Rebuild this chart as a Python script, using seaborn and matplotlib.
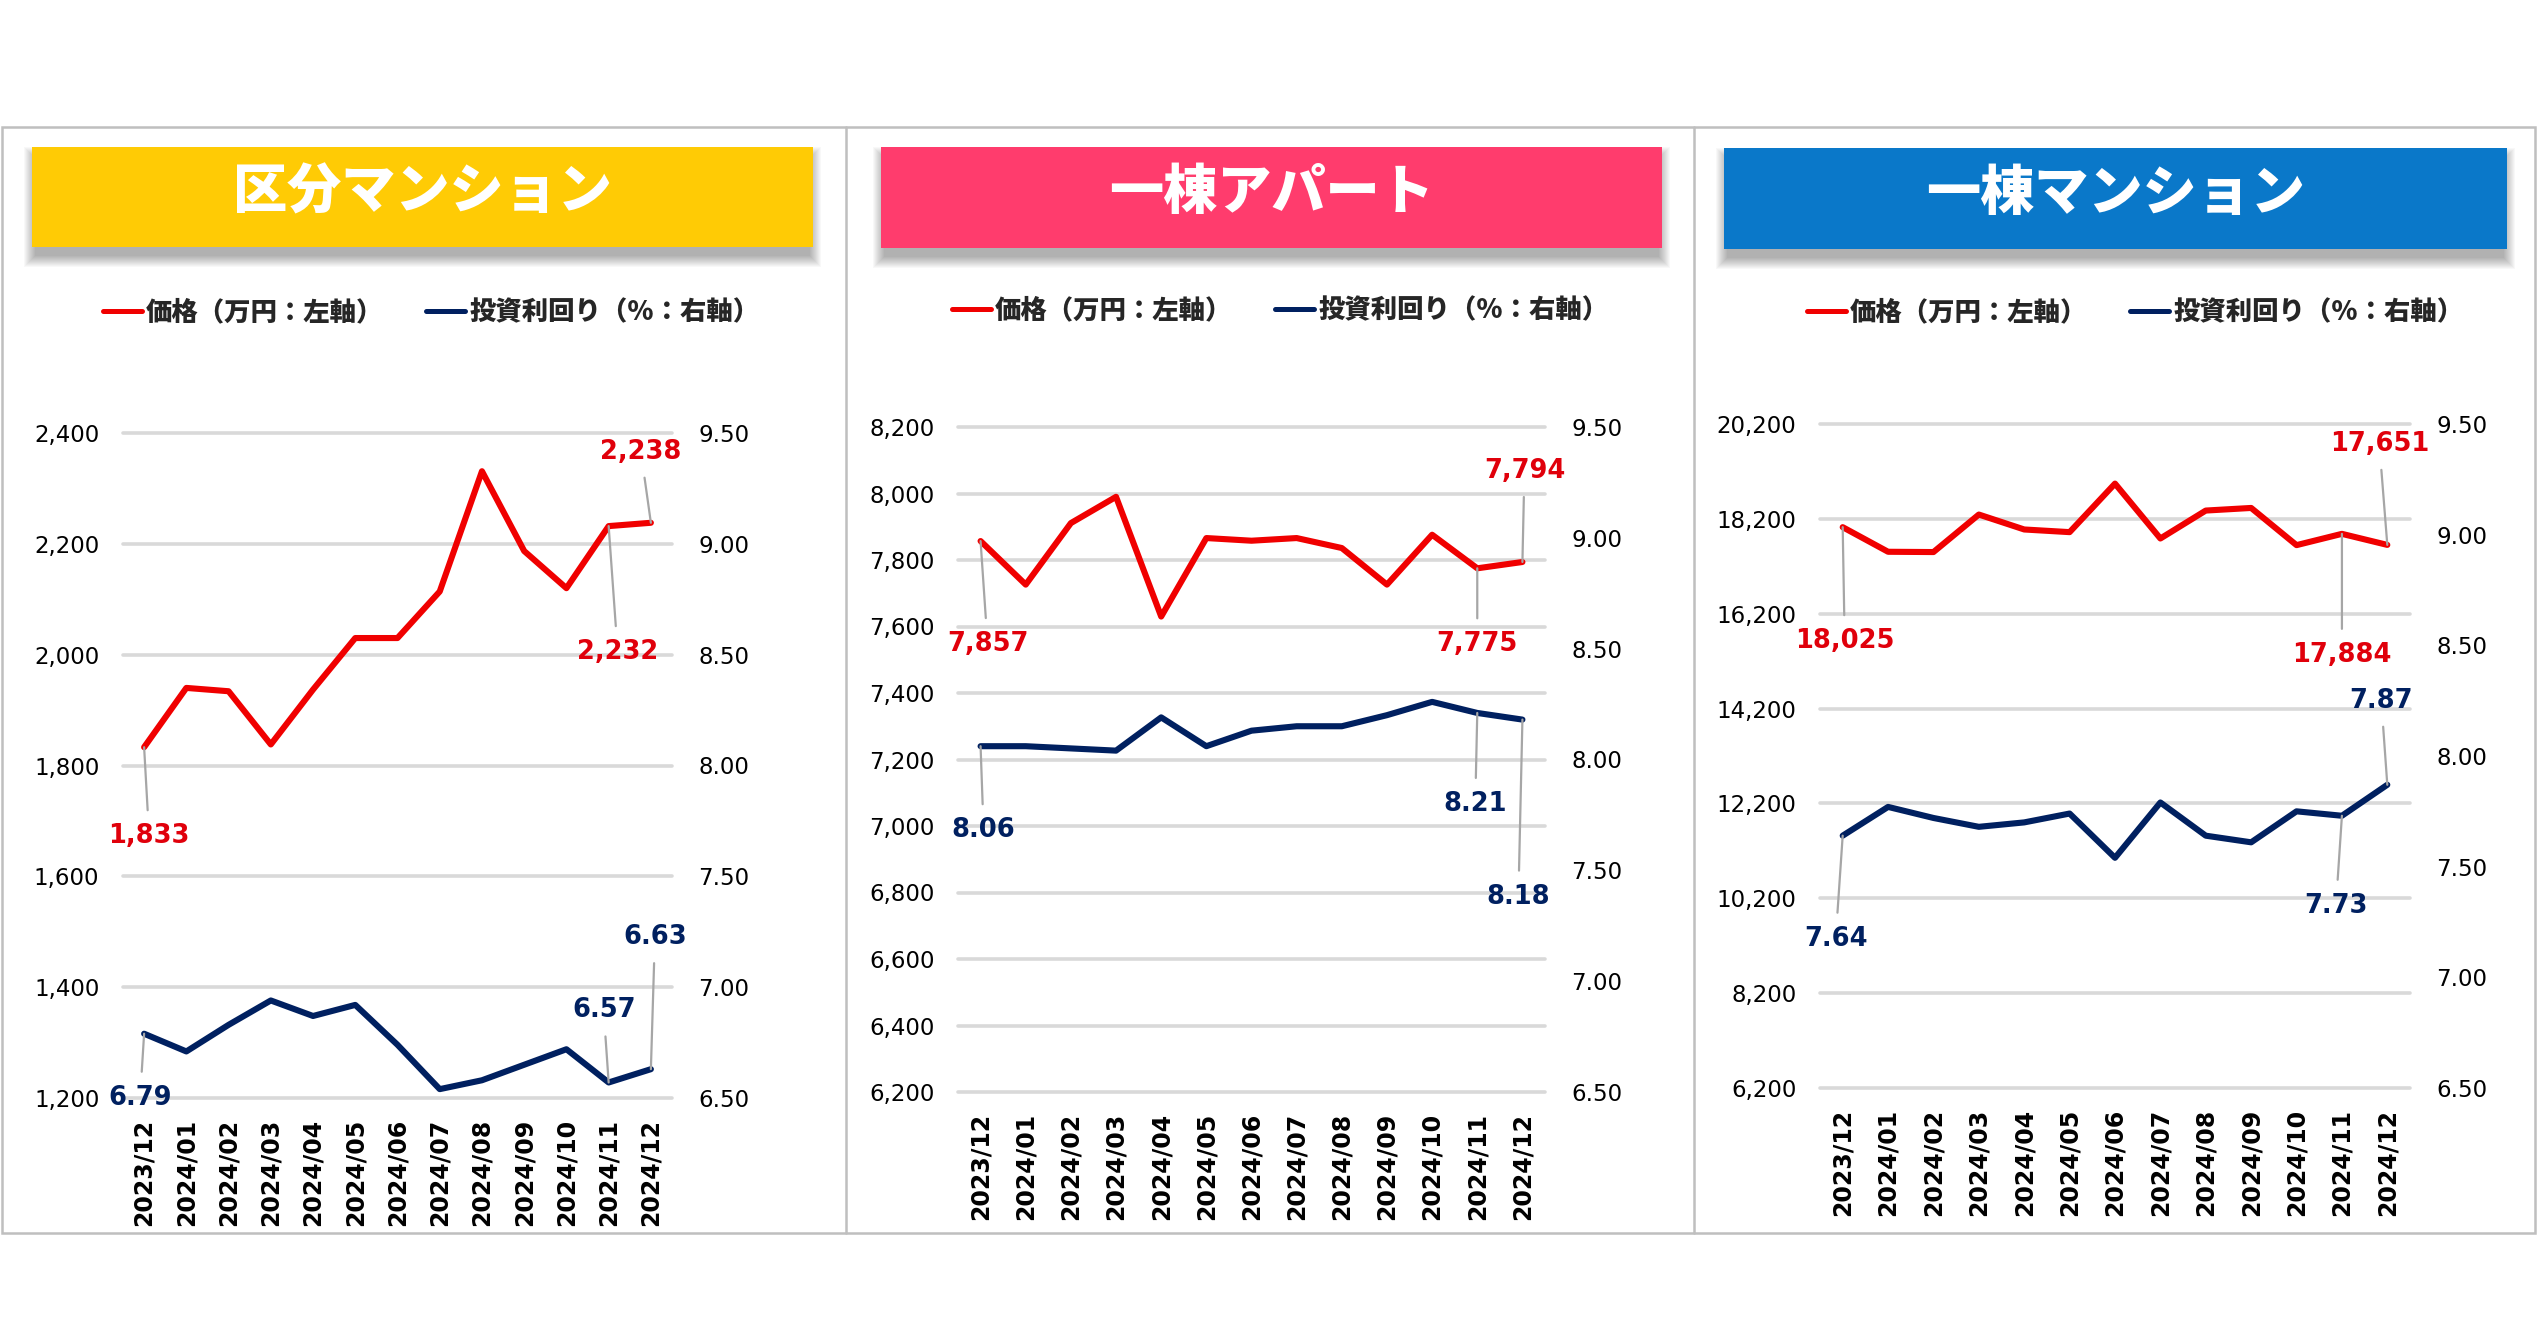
import numpy as np
import pandas as pd
import matplotlib
matplotlib.use("Agg")
import matplotlib.pyplot as plt
import seaborn as sns
from matplotlib.patches import Rectangle
from matplotlib.lines import Line2D
from matplotlib.font_manager import FontProperties

# ---------------- data ----------------
months = ["2023/12", "2024/01", "2024/02", "2024/03", "2024/04", "2024/05", "2024/06",
          "2024/07", "2024/08", "2024/09", "2024/10", "2024/11", "2024/12"]

kubun_price = [1833, 1940, 1934, 1838, 1937, 2030, 2030, 2114, 2331, 2187, 2120, 2232, 2238]
kubun_yield = [6.79, 6.71, 6.83, 6.94, 6.87, 6.92, 6.74, 6.54, 6.58, 6.65, 6.72, 6.57, 6.63]

apart_price = [7857, 7726, 7911, 7990, 7630, 7866, 7858, 7866, 7836, 7726, 7876, 7775, 7794]
apart_yield = [8.06, 8.06, 8.05, 8.04, 8.19, 8.06, 8.13, 8.15, 8.15, 8.20, 8.26, 8.21, 8.18]

mansion_price = [18025, 17506, 17500, 18291, 17976, 17920, 18943, 17786, 18375, 18430, 17646, 17884, 17651]
mansion_yield = [7.64, 7.77, 7.72, 7.68, 7.70, 7.74, 7.54, 7.79, 7.64, 7.61, 7.75, 7.73, 7.87]

titles = ["区分マンション", "一棟アパート", "一棟マンション"]
legend_labels = ["価格（万円：左軸）", "投資利回り（％：右軸）"]

kubun_price_ticks = [1200, 1400, 1600, 1800, 2000, 2200, 2400]
apart_price_ticks = [6200, 6400, 6600, 6800, 7000, 7200, 7400, 7600, 7800, 8000, 8200]
mansion_price_ticks = [6200, 8200, 10200, 12200, 14200, 16200, 18200, 20200]
yield_ticks = [6.5, 7.0, 7.5, 8.0, 8.5, 9.0, 9.5]

labelled_points = [0, 11, 12]

# ---------------- style / layout ----------------
W, H = 2538, 1328
RED = "#F00000"
RED_TXT = "#E0000B"
NAVY = "#002060"
GRID = "#D9D9D9"
LEADER = "#A6A6A6"
title_colors = ["#FFCB05", "#FF3C6D", "#0A78C9"]

sns.set_theme(style="white")
plt.rcParams["font.family"] = ["DejaVu Sans", "Noto Sans CJK JP"]
CJK = ["Noto Sans CJK JP", "DejaVu Sans"]

fig = plt.figure(figsize=(W / 100, H / 100), dpi=100)
fig.patch.set_facecolor("white")

bg = fig.add_axes([0, 0, 1, 1], zorder=0)
bg.set_xlim(0, W)
bg.set_ylim(H, 0)
bg.axis("off")

# panel frames
bg.add_patch(Rectangle((2, 127), 2533, 1106, fill=False, edgecolor="#BFBFBF", lw=1.8))
for xd in (846, 1694):
    bg.plot([xd, xd], [127, 1233], color="#BFBFBF", lw=1.8)

panels = [
    dict(price=kubun_price, yld=kubun_yield, pticks=kubun_price_ticks,
         box=(32, 147, 781, 100), ax=(123, 433, 672, 1098), legend_c=(431, 312),
         poff=[(5, 89), (9, 126), (-10, -71)], yoff=[(-4, 64), (-5, -72), (4, -132)]),
    dict(price=apart_price, yld=apart_yield, pticks=apart_price_ticks,
         box=(881, 147, 781, 101), ax=(958, 427, 1545, 1092), legend_c=(1280, 310),
         poff=[(7, 103), (0, 76), (2, -91)], yoff=[(3, 84), (-2, 91), (-4, 177)]),
    dict(price=mansion_price, yld=mansion_yield, pticks=mansion_price_ticks,
         box=(1724, 148, 783, 101), ax=(1820, 424, 2410, 1088), legend_c=(2135, 312),
         poff=[(2, 114), (0, 121), (-8, -101)], yoff=[(-7, 103), (-6, 90), (-6, -84)]),
]

legend_font = FontProperties(family=CJK, weight="heavy", size=19)

for p, title, tcol in zip(panels, titles, title_colors):
    # title box with soft drop shadow (mostly below)
    x0, y0, bw, bh = p["box"]
    for s in range(1, 13):
        bg.add_patch(Rectangle((x0 + 4 - s, y0 + 12 - s), bw - 8 + 2 * s, bh + 2 * s - 4,
                               facecolor="black", alpha=0.028, lw=0))
    bg.add_patch(Rectangle((x0, y0), bw, bh, facecolor=tcol, lw=0))
    bg.text(x0 + bw / 2, y0 + bh / 2 - 5, title, color="white", ha="center", va="center",
            fontsize=39, fontweight="heavy", family=CJK)

    # axes
    ax_l, ax_t, ax_r, ax_b = p["ax"]
    ax = fig.add_axes([ax_l / W, 1 - ax_b / H, (ax_r - ax_l) / W, (ax_b - ax_t) / H], zorder=2)
    ax.patch.set_alpha(0)
    ax2 = ax.twinx()
    ax2.patch.set_alpha(0)

    df = pd.DataFrame({"idx": np.arange(len(months)), "month": months,
                       "price": p["price"], "yield": p["yld"]})
    sns.lineplot(data=df, x="idx", y="price", ax=ax, color=RED, linewidth=4.4, legend=False)
    sns.lineplot(data=df, x="idx", y="yield", ax=ax2, color=NAVY, linewidth=4.4, legend=False)

    pt = p["pticks"]
    ax.set_ylim(pt[0], pt[-1])
    ax.set_yticks(pt)
    ax.set_yticklabels([f"{v:,}" for v in pt])
    ax2.set_ylim(yield_ticks[0], yield_ticks[-1])
    ax2.set_yticks(yield_ticks)
    ax2.set_yticklabels([f"{v:.2f}" for v in yield_ticks])
    ax.set_xlim(-0.5, len(months) - 0.5)
    ax.set_xticks(range(len(months)))
    ax.set_xticklabels(months, rotation=90, fontsize=17, fontweight="bold", color="black")

    ax.grid(axis="y", color=GRID, linewidth=2.6)
    ax.grid(axis="x", visible=False)
    ax2.grid(False)
    ax.set_axisbelow(True)
    for gl in ax.get_ygridlines():
        gl.set_clip_on(False)

    for a in (ax, ax2):
        for sp in a.spines.values():
            sp.set_visible(False)
        a.set_xlabel("")
        a.set_ylabel("")
    ax.tick_params(axis="y", length=0, pad=17, labelsize=16.5, labelcolor="black")
    ax.tick_params(axis="x", length=0, pad=15)
    ax2.tick_params(axis="y", length=0, pad=19, labelsize=16.5, labelcolor="black")

    # data labels with leader lines
    for i, (dx, dy) in zip(labelled_points, p["poff"]):
        v = p["price"][i]
        ax.annotate(f"{v:,}", xy=(i, v), xytext=(dx, -dy), textcoords="offset pixels",
                    ha="center", va="center", color=RED_TXT, fontsize=18.5, fontweight="bold",
                    arrowprops=dict(arrowstyle="-", color=LEADER, lw=1.6, shrinkA=7, shrinkB=0),
                    zorder=5, annotation_clip=False)
    for i, (dx, dy) in zip(labelled_points, p["yoff"]):
        v = p["yld"][i]
        ax2.annotate(f"{v:.2f}", xy=(i, v), xytext=(dx, -dy), textcoords="offset pixels",
                     ha="center", va="center", color=NAVY, fontsize=18.5, fontweight="bold",
                     arrowprops=dict(arrowstyle="-", color=LEADER, lw=1.6, shrinkA=7, shrinkB=0),
                     zorder=5, annotation_clip=False)

    # legend
    handles = [Line2D([], [], color=RED, lw=3.6), Line2D([], [], color=NAVY, lw=3.6)]
    cx, cy = p["legend_c"]
    fig.legend(handles, legend_labels, loc="center", bbox_to_anchor=(cx / W, 1 - cy / H),
               ncol=2, frameon=False, prop=legend_font, handlelength=1.5,
               handletextpad=0.15, columnspacing=1.6)

fig.savefig("out.png", dpi=100, facecolor="white")
